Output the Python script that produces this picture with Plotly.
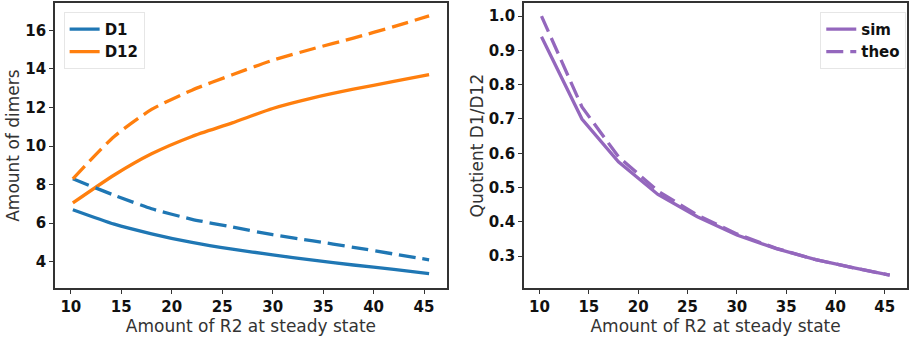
import plotly.graph_objects as go

# Amount of R2 at steady state (sampling points)
r2 = [10.2, 14.3, 18, 22, 26, 30, 34, 38, 42, 45.5]

# Dimer amounts: simulation (solid) and theory (dashed)
d1_sim = [6.7, 5.95, 5.45, 5.0, 4.65, 4.36, 4.08, 3.83, 3.6, 3.38]
d1_theo = [8.3, 7.45, 6.75, 6.2, 5.8, 5.4, 5.08, 4.75, 4.4, 4.1]
d12_sim = [7.05, 8.5, 9.6, 10.5, 11.2, 11.95, 12.5, 12.95, 13.35, 13.7]
d12_theo = [8.3, 10.5, 11.9, 12.9, 13.7, 14.45, 15.05, 15.6, 16.2, 16.75]

# Quotient D1/D12
q_sim = [0.94, 0.70, 0.575, 0.48, 0.415, 0.362, 0.322, 0.29, 0.265, 0.245]
q_theo = [1.0, 0.735, 0.59, 0.49, 0.42, 0.365, 0.323, 0.29, 0.265, 0.245]

BLUE = "#1f77b4"
ORANGE = "#ff7f0e"
PURPLE = "#9467bd"
FONT = "DejaVu Sans"
LW = 3.3
DASH = "17px,7px"

fig = go.Figure()

fig.add_trace(go.Scatter(x=r2, y=d1_sim, mode="lines", name="D1",
                         line=dict(color=BLUE, width=LW, shape="spline", smoothing=0.6),
                         xaxis="x", yaxis="y", legend="legend"))
fig.add_trace(go.Scatter(x=r2, y=d12_sim, mode="lines", name="D12",
                         line=dict(color=ORANGE, width=LW, shape="spline", smoothing=0.6),
                         xaxis="x", yaxis="y", legend="legend"))
fig.add_trace(go.Scatter(x=r2, y=d1_theo, mode="lines", showlegend=False,
                         line=dict(color=BLUE, width=LW, dash=DASH, shape="spline", smoothing=0.6),
                         xaxis="x", yaxis="y"))
fig.add_trace(go.Scatter(x=r2, y=d12_theo, mode="lines", showlegend=False,
                         line=dict(color=ORANGE, width=LW, dash=DASH, shape="spline", smoothing=0.6),
                         xaxis="x", yaxis="y"))

fig.add_trace(go.Scatter(x=r2, y=q_sim, mode="lines", name="sim",
                         line=dict(color=PURPLE, width=LW),
                         xaxis="x2", yaxis="y2", legend="legend2"))
fig.add_trace(go.Scatter(x=r2, y=q_theo, mode="lines", name="theo",
                         line=dict(color=PURPLE, width=LW, dash=DASH),
                         xaxis="x2", yaxis="y2", legend="legend2"))

frame = dict(showline=True, linecolor="#333333", linewidth=1.6, mirror=True,
             ticks="outside", ticklen=4, tickwidth=1.2, tickcolor="#333333",
             showgrid=False, zeroline=False,
             tickfont=dict(family=FONT, size=15, color="#111111", weight="bold"),
             title_font=dict(family=FONT, size=17, color="#333333"))

ydom = [0.145, 0.991]
xticks = [10, 15, 20, 25, 30, 35, 40, 45]

fig.update_layout(
    width=909, height=337,
    margin=dict(l=0, r=0, t=0, b=0),
    paper_bgcolor="white", plot_bgcolor="white",
    font=dict(family=FONT),
    xaxis=dict(domain=[0.0605, 0.4917], range=[8.43, 47.27], tickvals=xticks,
               title=dict(text="Amount of R2 at steady state", standoff=0),
               anchor="y", **frame),
    yaxis=dict(domain=ydom, range=[2.63, 17.42], tickvals=[4, 6, 8, 10, 12, 14, 16],
               title=dict(text="Amount of dimers", standoff=1),
               anchor="x", **frame),
    xaxis2=dict(domain=[0.5765, 0.998], range=[8.43, 47.27], tickvals=xticks,
                title=dict(text="Amount of R2 at steady state", standoff=0),
                anchor="y2", **frame),
    yaxis2=dict(domain=ydom, range=[0.207, 1.038],
                tickvals=[0.3, 0.4, 0.5, 0.6, 0.7, 0.8, 0.9, 1.0],
                ticktext=["0.3", "0.4", "0.5", "0.6", "0.7", "0.8", "0.9", "1.0"],
                title=dict(text="Quotient D1/D12", standoff=1),
                anchor="x2", **frame),
    legend=dict(x=0.07, y=0.965, xanchor="left", yanchor="top",
                bgcolor="rgba(255,255,255,0.8)", bordercolor="#e6e6e6", borderwidth=1,
                font=dict(family=FONT, size=15, color="#111111", weight="bold"),
                tracegroupgap=0, itemwidth=30),
    legend2=dict(x=0.997, y=0.965, xanchor="right", yanchor="top",
                 bgcolor="rgba(255,255,255,0.8)", bordercolor="#e6e6e6", borderwidth=1,
                 font=dict(family=FONT, size=15, color="#111111", weight="bold"),
                 tracegroupgap=0, itemwidth=30),
)

fig.write_html("out.html")
